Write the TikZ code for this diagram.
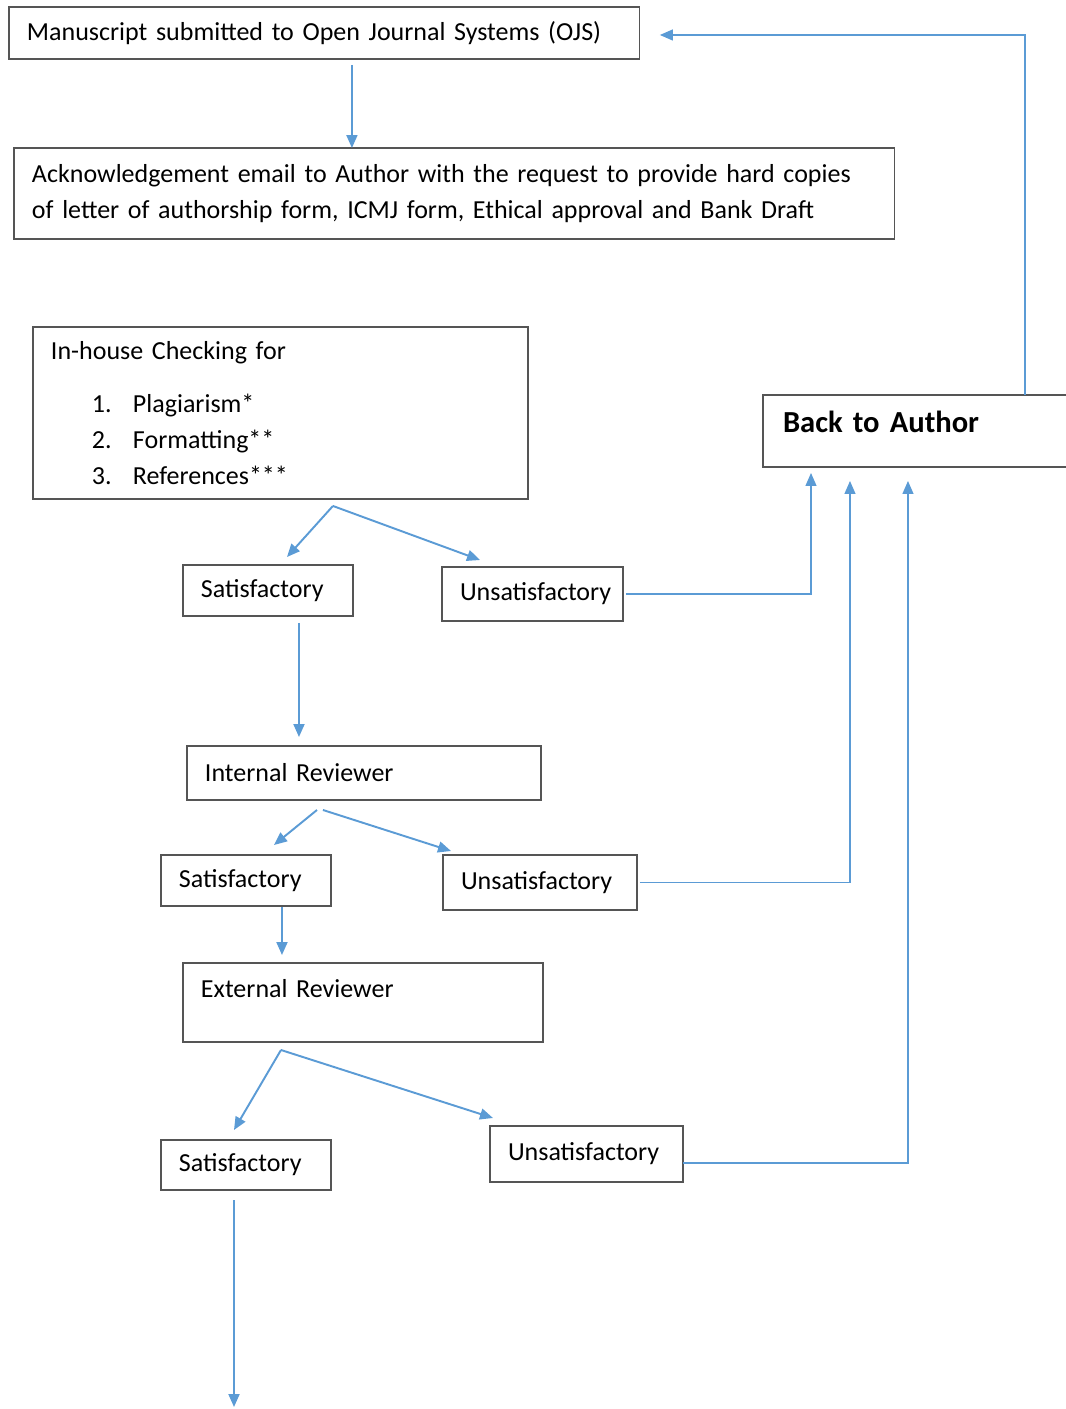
\documentclass[tikz,border=0pt]{standalone}
\usepackage{fontspec}
\setmainfont{Carlito}
\usetikzlibrary{arrows.meta,calc}
\definecolor{flowblue}{RGB}{91,155,213}
\definecolor{boxgray}{RGB}{85,85,85}

\begin{document}
\begin{tikzpicture}[x=0.02cm,y=-0.02cm,
  box/.style={draw=boxgray, line width=0.7pt, anchor=north west, outer sep=0pt, inner xsep=0.36cm, inner ysep=0pt, align=left, font=\fontsize{14.8}{20.5}\selectfont},
  flow/.style={draw=flowblue, line width=1.1pt, -{Triangle[length=0.26cm,width=0.22cm]}},
  retflow/.style={draw=flowblue, line width=0.7pt, -{Triangle[length=0.26cm,width=0.22cm]}}]
\useasboundingbox (0,0) rectangle (1065,1409);

\draw (9,7) node[box, text width=11.9cm, minimum height=1.04cm] (msub) {Manuscript submitted to Open Journal Systems (OJS)};
\draw (14,148) node[box, text width=16.9cm, minimum height=1.82cm] (ack) {Acknowledgement email to Author with the request to provide hard copies\\of letter of authorship form, ICMJ form, Ethical approval and Bank Draft};
\draw (33,327) node[box, text width=9.18cm, minimum height=3.44cm] (check) {In-house Checking for\\[10pt]
  \hspace*{0.82cm}\makebox[0.82cm][l]{1.}Plagiarism*\\
  \hspace*{0.82cm}\makebox[0.82cm][l]{2.}Formatting**\\
  \hspace*{0.82cm}\makebox[0.82cm][l]{3.}References***};
\draw (763,395) node[box, inner xsep=0.4cm, text width=5.6cm, minimum height=1.44cm, text depth=0.38cm, font=\fontsize{17.4}{22}\selectfont\bfseries] (back) {Back to Author};

\draw (183,565) node[box, text width=2.68cm, minimum height=1.02cm] (sat1) {Satisfactory};
\draw (442,567) node[box, text width=2.9cm, minimum height=1.08cm] (unsat1) {Unsatisfactory};
\draw (187,746) node[box, text width=6.36cm, minimum height=1.08cm] (intrev) {Internal Reviewer};
\draw (161,855) node[box, text width=2.68cm, minimum height=1.02cm] (sat2) {Satisfactory};
\draw (443,855) node[box, text width=3.16cm, minimum height=1.1cm] (unsat2) {Unsatisfactory};
\draw (183,963) node[box, text width=6.48cm, minimum height=1.58cm, text depth=0.58cm] (extrev) {External Reviewer};
\draw (161,1140) node[box, text width=2.68cm, minimum height=1.0cm] (sat3) {Satisfactory};
\draw (490,1126) node[box, text width=3.14cm, minimum height=1.12cm] (unsat3) {Unsatisfactory};
\coordinate (next) at (234,1407);

\draw[flow] ([xshift=0.55cm,yshift=-0.12cm]msub.south) -- ([xshift=0.55cm]msub.south |- ack.north);
\draw[retflow] ([xshift=5.24cm]back.north west) |- ([xshift=0.4cm,yshift=-0.04cm]msub.east);

\draw[flow] ([xshift=1.05cm,yshift=-0.14cm]check.south) -- ([xshift=0.38cm,yshift=0.16cm]sat1.north);
\draw[flow] ([xshift=1.05cm,yshift=-0.14cm]check.south) -- ([xshift=-1.05cm,yshift=0.14cm]unsat1.north);
\draw[retflow] ([xshift=0.06cm]unsat1.east) -| ([xshift=0.96cm,yshift=-0.12cm]back.south west);
\draw[flow, shorten >=0.18cm] ([xshift=0.62cm,yshift=-0.14cm]sat1.south) -- ([xshift=0.62cm]sat1.south |- intrev.north);

\draw[flow] ([xshift=-0.94cm,yshift=-0.2cm]intrev.south) -- ([xshift=0.56cm,yshift=0.2cm]sat2.north);
\draw[flow] ([xshift=-0.82cm,yshift=-0.2cm]intrev.south) -- ([xshift=-1.78cm,yshift=0.08cm]unsat2.north);
\draw[retflow] ([xshift=0.06cm]unsat2.east) -| ([xshift=1.74cm,yshift=-0.28cm]back.south west);
\draw[flow, shorten >=0.16cm] ([xshift=0.72cm,yshift=-0.02cm]sat2.south) -- ([xshift=0.72cm]sat2.south |- extrev.north);

\draw[flow] ([xshift=-1.64cm,yshift=-0.16cm]extrev.south) -- ([xshift=-0.24cm,yshift=0.2cm]sat3.north);
\draw[flow] ([xshift=-1.64cm,yshift=-0.16cm]extrev.south) -- ([xshift=-1.87cm,yshift=0.16cm]unsat3.north);
\draw[retflow] ([yshift=-0.18cm]unsat3.east) -| ([xshift=2.9cm,yshift=-0.28cm]back.south west);
\draw[flow] ([xshift=-0.24cm,yshift=-0.2cm]sat3.south) -- (next);

\end{tikzpicture}
\end{document}
